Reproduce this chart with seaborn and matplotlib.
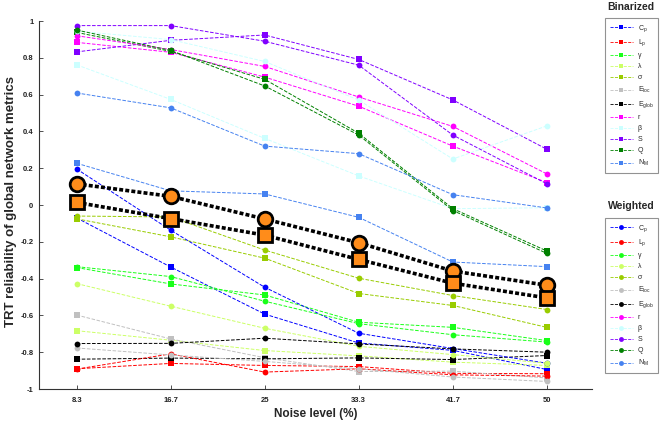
"""TRT reliability of global network metrics vs noise level (binarized vs weighted)."""

import matplotlib
matplotlib.use("Agg")
import matplotlib.pyplot as plt
import seaborn as sns
from matplotlib.lines import Line2D

# ---- data -------------------------------------------------------------------

NOISE = [8.33, 16.67, 25.0, 33.33, 41.67, 50.0]
NOISE_LABELS = ["8.3", "16.7", "25", "33.3", "41.7", "50"]

METRICS = ["Cp", "Lp", "gamma", "lambda", "sigma", "Eloc",
           "Eglob", "r", "beta", "S", "Q", "NM"]

METRIC_LABELS = {
    "Cp": r"C$_\mathregular{p}$",
    "Lp": r"L$_\mathregular{p}$",
    "gamma": "γ",
    "lambda": "λ",
    "sigma": "σ",
    "Eloc": r"E$_\mathregular{loc}$",
    "Eglob": r"E$_\mathregular{glob}$",
    "r": "r",
    "beta": "β",
    "S": "S",
    "Q": "Q",
    "NM": r"N$_\mathregular{M}$",
}

METRIC_COLORS = {
    "Cp": "#0000ff",
    "Lp": "#ff0000",
    "gamma": "#19ff19",
    "lambda": "#ccff66",
    "sigma": "#99cc00",
    "Eloc": "#c0c0c0",
    "Eglob": "#000000",
    "r": "#ff00ff",
    "beta": "#ccffff",
    "S": "#8000ff",
    "Q": "#008000",
    "NM": "#4682f0",
}

# binarized networks (square markers)
bin_cp = [-0.07, -0.337, -0.593, -0.75, -0.79, -0.894]
bin_lp = [-0.89, -0.861, -0.872, -0.878, -0.915, -0.917]
bin_gamma = [-0.34, -0.429, -0.489, -0.637, -0.665, -0.737]
bin_lambda = [-0.683, -0.735, -0.791, -0.82, -0.854, -0.872]
bin_sigma = [-0.075, -0.173, -0.289, -0.481, -0.546, -0.665]
bin_eloc = [-0.598, -0.728, -0.83, -0.905, -0.903, -0.94]
bin_eglob = [-0.838, -0.832, -0.836, -0.831, -0.84, -0.818]
bin_r = [0.884, 0.83, 0.695, 0.537, 0.32, 0.122]
bin_beta = [0.762, 0.574, 0.362, 0.158, -0.02, -0.015]
bin_s = [0.832, 0.895, 0.924, 0.791, 0.571, 0.303]
bin_q = [0.938, 0.835, 0.683, 0.39, -0.02, -0.25]
bin_nm = [0.227, 0.077, 0.06, -0.067, -0.31, -0.335]

# weighted networks (circle markers)
wei_cp = [0.196, -0.137, -0.447, -0.697, -0.78, -0.86]
wei_lp = [-0.892, -0.809, -0.908, -0.89, -0.923, -0.93]
wei_gamma = [-0.335, -0.389, -0.523, -0.645, -0.705, -0.745]
wei_lambda = [-0.427, -0.55, -0.67, -0.768, -0.813, -0.86]
wei_sigma = [-0.06, -0.065, -0.245, -0.398, -0.492, -0.568]
wei_eloc = [-0.777, -0.815, -0.85, -0.89, -0.935, -0.959]
wei_eglob = [-0.753, -0.752, -0.724, -0.755, -0.782, -0.8]
wei_r = [0.92, 0.845, 0.753, 0.587, 0.427, 0.169]
wei_beta = [0.945, 0.899, 0.78, 0.57, 0.25, 0.43]
wei_s = [0.975, 0.975, 0.89, 0.76, 0.38, 0.115]
wei_q = [0.951, 0.84, 0.647, 0.38, -0.03, -0.263]
wei_nm = [0.609, 0.528, 0.32, 0.279, 0.056, -0.016]

# averages across metrics
mean_bin = [0.014, -0.074, -0.164, -0.296, -0.425, -0.505]
mean_wei = [0.115, 0.047, -0.076, -0.205, -0.359, -0.436]

BINARIZED = dict(zip(METRICS, [bin_cp, bin_lp, bin_gamma, bin_lambda, bin_sigma,
                               bin_eloc, bin_eglob, bin_r, bin_beta, bin_s,
                               bin_q, bin_nm]))
WEIGHTED = dict(zip(METRICS, [wei_cp, wei_lp, wei_gamma, wei_lambda, wei_sigma,
                              wei_eloc, wei_eglob, wei_r, wei_beta, wei_s,
                              wei_q, wei_nm]))

# ---- plot -------------------------------------------------------------------

sns.set_theme(style="white")
plt.rcParams["font.family"] = ["Liberation Sans", "DejaVu Sans"]
plt.rcParams["mathtext.default"] = "regular"

fig = plt.figure(figsize=(6.62, 4.24), dpi=100)
ax = fig.add_axes([39 / 662, 1 - 389 / 424, (592 - 39) / 662, (389 - 21) / 424])

line_kw = dict(linestyle="--", linewidth=0.7, markersize=4.2,
               markeredgewidth=0, legend=False)

for m in METRICS:
    sns.lineplot(x=NOISE, y=BINARIZED[m], ax=ax, color=METRIC_COLORS[m],
                 marker="s", **line_kw)
for m in METRICS:
    sns.lineplot(x=NOISE, y=WEIGHTED[m], ax=ax, color=METRIC_COLORS[m],
                 marker="o", **line_kw)

avg_kw = dict(color="black", linewidth=2.6, linestyle=(0, (1.1, 0.6)),
              markersize=10.5, markerfacecolor="#ff8c1a",
              markeredgecolor="black", markeredgewidth=2, legend=False)
sns.lineplot(x=NOISE, y=mean_wei, ax=ax, marker="o", zorder=5, **avg_kw)
sns.lineplot(x=NOISE, y=mean_bin, ax=ax, marker="s", zorder=5, **avg_kw)

ax.set_xlim(5, 54)
ax.set_ylim(-1, 1)
ax.set_xticks(NOISE)
ax.set_xticklabels(NOISE_LABELS)
ax.set_yticks([-1, -0.8, -0.6, -0.4, -0.2, 0, 0.2, 0.4, 0.6, 0.8, 1])
ax.set_yticklabels(["-1", "-0.8", "-0.6", "-0.4", "-0.2", "0",
                    "0.2", "0.4", "0.6", "0.8", "1"])
ax.tick_params(axis="both", direction="in", length=3, width=0.6,
               labelsize=5.5, colors="#333333", labelcolor="#222222",
               bottom=True, left=True)
ax.tick_params(axis="x", pad=6)
ax.tick_params(axis="y", pad=4)
for lab in ax.get_xticklabels() + ax.get_yticklabels():
    lab.set_fontweight("bold")
for side in ["top", "right"]:
    ax.spines[side].set_visible(False)
for side in ["left", "bottom"]:
    ax.spines[side].set_color("#333333")
    ax.spines[side].set_linewidth(0.8)

ax.set_xlabel("Noise level (%)", fontsize=8.5, fontweight="bold")
ax.set_ylabel("TRT reliability of global network metrics", fontsize=9.5,
              fontweight="bold")
ax.xaxis.set_label_coords(0.5, -0.068)
ax.yaxis.set_label_coords(-0.05, 0.51)
ax.xaxis.label.set_va("center")
ax.yaxis.label.set_va("center")


def _legend(marker, top):
    handles = [
        Line2D([], [], color=METRIC_COLORS[m], linestyle="--", linewidth=0.6,
               marker=marker, markersize=3.5, markeredgewidth=0,
               label=METRIC_LABELS[m])
        for m in METRICS
    ]
    leg = fig.legend(handles=handles, loc="upper left",
                     bbox_to_anchor=(605 / 662, 1 - top / 424),
                     fontsize=5, frameon=True, fancybox=False,
                     edgecolor="#777777", handlelength=3.3, handletextpad=0.7,
                     labelspacing=0.57, borderpad=0.7, borderaxespad=0)
    leg.get_frame().set_linewidth(0.8)
    return leg


_legend("s", 18)
_legend("o", 218)
fig.text(631 / 662, 1 - 7 / 424, "Binarized", ha="center", va="center",
         fontsize=7.5, fontweight="bold")
fig.text(631 / 662, 1 - 206 / 424, "Weighted", ha="center", va="center",
         fontsize=7.5, fontweight="bold")

fig.savefig("out.png", dpi=100)
plt.close(fig)
